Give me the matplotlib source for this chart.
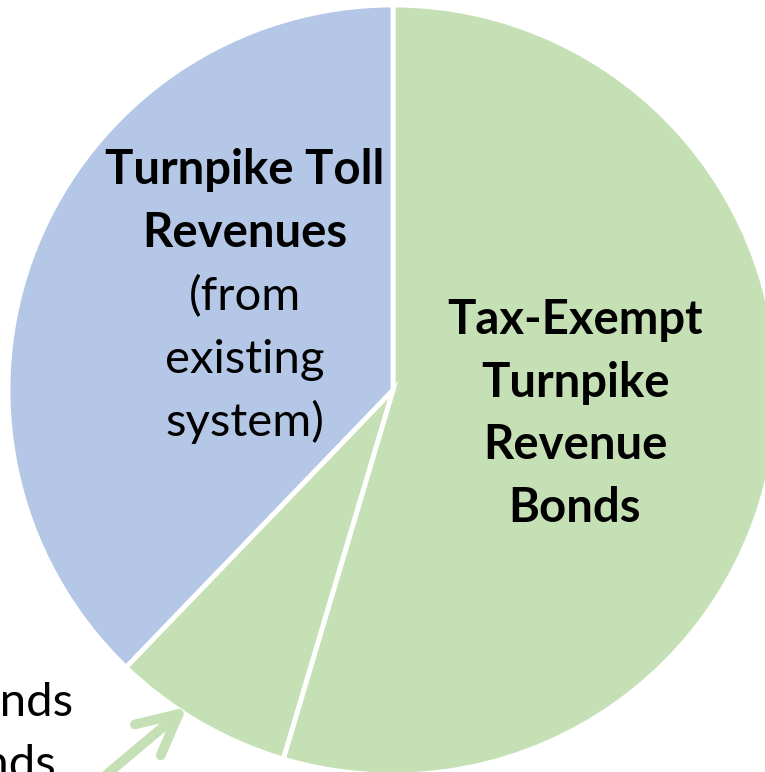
import matplotlib
matplotlib.use("Agg")
import matplotlib.pyplot as plt

labels = ["Tax-Exempt Turnpike Revenue Bonds", "Taxable Bonds", "Turnpike Toll Revenues (from existing system)"]
values = [54.6, 7.6, 37.8]
colors = ["#C5E0B4", "#C5E0B4", "#B4C7E7"]

W, H = 765, 772
fig = plt.figure(figsize=(W / 100, H / 100), dpi=100)
cx, cy, r = 393, 390, 385
ax = fig.add_axes([(cx - r) / W, (H - cy - r) / H, 2 * r / W, 2 * r / H])
ax.pie(values, colors=colors, startangle=90, counterclock=False,
       wedgeprops=dict(edgecolor="white", linewidth=3.5))
ax.set_xlim(-1, 1)
ax.set_ylim(-1, 1)
ax.axis("off")

FONT = "Lato"
FS = 34

def t(x, y, s, weight="normal", ha="center"):
    fig.text(x / W, 1 - y / H, s, ha=ha, va="center", fontsize=FS,
             fontweight=weight, family=FONT, color="black")

for y, s in zip([320, 383, 445, 508], ["Tax-Exempt", "Turnpike", "Revenue", "Bonds"]):
    t(575, y, s, "bold")
for y, s in zip([170, 233], ["Turnpike Toll", "Revenues"]):
    t(245, y, s, "bold")
for y, s in zip([297, 360, 422], ["(from", "existing", "system)"]):
    t(245, y, s)

t(73, 703, "Taxable Bonds", ha="right")
t(56, 765, "Build America Bonds", ha="right")

ax.annotate("", xy=(187 / W, 1 - 707 / H), xytext=(100 / W, 1 - 780 / H),
            xycoords="figure fraction", textcoords="figure fraction",
            arrowprops=dict(arrowstyle="->,head_length=2.9,head_width=1.45",
                            color="#C5E0B4", lw=7, capstyle="round",
                            joinstyle="round", shrinkA=0, shrinkB=0))

fig.savefig("out.png", dpi=100)
